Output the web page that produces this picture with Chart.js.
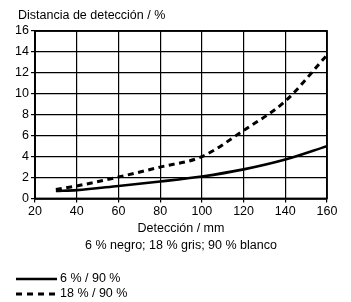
<!DOCTYPE html>
<html lang="es">
<head>
<meta charset="UTF-8">
<title>Distancia de detección</title>
<script src="https://cdn.jsdelivr.net/npm/chart.js"></script>
<style>
  html, body { margin: 0; padding: 0; background: #fff; }
  #wrap { width: 351px; height: 302px; }
</style>
</head>
<body>
<div id="wrap"><canvas id="grafico" width="351" height="302"></canvas></div>

<script>
// datos
const deteccion = [30, 40, 60, 80, 100, 120, 140, 160];
const negro90 = [0.72, 0.8, 1.2, 1.62, 2.1, 2.78, 3.72, 5.0];
const gris90 = [0.85, 1.2, 2.05, 3.0, 4.0, 6.5, 9.3, 13.7];
const nombres = ['6 % / 90 %', '18 % / 90 %'];
const ticksX = [20, 40, 60, 80, 100, 120, 140, 160];
const ticksY = [0, 2, 4, 6, 8, 10, 12, 14, 16];

const fuente = "'Liberation Sans', Arial, sans-serif";

function puntos(ys) {
    return deteccion.map((x, i) => ({ x: x, y: ys[i] }));
}

// el titulo empieza un poco a la derecha, como en el original
const moverTitulo = {
    id: 'moverTitulo',
    afterLayout(chart) {
        if (chart.titleBlock) chart.titleBlock.left = 18;
    }
};

// leyenda vertical abajo a la izquierda
const leyendaVertical = {
    id: 'leyendaVertical',
    afterDraw(chart) {
        const ctx = chart.ctx;
        const filas = [279, 294];
        ctx.save();
        chart.data.datasets.forEach((ds, i) => {
            const y = filas[i];
            ctx.strokeStyle = '#000';
            ctx.lineWidth = ds.borderWidth;
            ctx.setLineDash(ds.legendDash || []);
            ctx.beginPath();
            ctx.moveTo(16, y);
            ctx.lineTo(57, y);
            ctx.stroke();
            ctx.setLineDash([]);
            ctx.fillStyle = '#000';
            ctx.font = '12.5px ' + fuente;
            ctx.textBaseline = 'middle';
            ctx.fillText(ds.label, 60, y);
        });
        ctx.restore();
    }
};

// marco del area del grafico
const marco = {
    id: 'marco',
    afterDatasetsDraw(chart) {
        const a = chart.chartArea;
        const ctx = chart.ctx;
        ctx.save();
        ctx.strokeStyle = '#000';
        ctx.lineWidth = 1.8;
        ctx.strokeRect(a.left, a.top, a.right - a.left, a.bottom - a.top);
        ctx.restore();
    }
};

new Chart(document.getElementById('grafico'), {
    type: 'line',
    data: {
        datasets: [{
            label: nombres[0],
            data: puntos(negro90),
            borderColor: '#000',
            borderWidth: 2.6,
            pointRadius: 0,
            cubicInterpolationMode: 'monotone'
        }, {
            label: nombres[1],
            data: puntos(gris90),
            borderColor: '#000',
            borderWidth: 3,
            borderDash: [6, 4.5],
            legendDash: [6, 5],
            pointRadius: 0,
            cubicInterpolationMode: 'monotone'
        }]
    },
    options: {
        responsive: false,
        animation: false,
        layout: { padding: { left: 4, right: 24, top: 0, bottom: 34 } },
        plugins: {
            legend: { display: false },
            tooltip: { enabled: false },
            title: {
                display: true,
                text: 'Distancia de detección / %',
                align: 'start',
                color: '#000',
                font: { family: fuente, size: 12.5, weight: 'normal', lineHeight: 1.2 },
                padding: { top: 8.5, bottom: 7.5 }
            }
        },
        scales: {
            x: {
                type: 'linear',
                min: 20,
                max: 160,
                afterBuildTicks: (s) => { s.ticks = ticksX.map(v => ({ value: v })); },
                afterFit: (s) => { s.height = 69.5; },
                ticks: {
                    color: '#000',
                    padding: 2,
                    maxRotation: 0,
                    font: { family: fuente, size: 12.5 }
                },
                grid: { color: '#000', lineWidth: 1.2, tickLength: 4 },
                border: { color: '#000', width: 1.8 },
                title: {
                    display: true,
                    text: ['Detección / mm', '6 % negro; 18 % gris; 90 % blanco'],
                    color: '#000',
                    font: { family: fuente, size: 12.5, lineHeight: 1.36 },
                    padding: { top: 0, bottom: 14 }
                }
            },
            y: {
                min: 0,
                max: 16,
                afterBuildTicks: (s) => { s.ticks = ticksY.map(v => ({ value: v })); },
                afterFit: (s) => { s.width = 31; },
                ticks: {
                    color: '#000',
                    padding: 2,
                    font: { family: fuente, size: 12.5 }
                },
                grid: { color: '#000', lineWidth: 1.2, tickLength: 4 },
                border: { color: '#000', width: 1.8 }
            }
        }
    },
    plugins: [moverTitulo, marco, leyendaVertical]
});
</script>
</body>
</html>
